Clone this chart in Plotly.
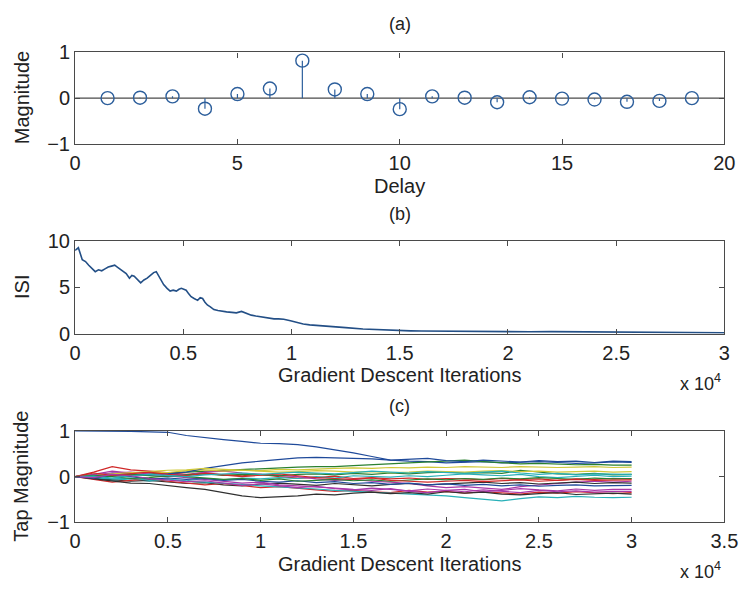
import plotly.graph_objects as go

# ---------------- data ----------------
# (a) channel impulse response
delay = list(range(1, 20))
magnitude = [0.0, 0.01, 0.04, -0.23, 0.09, 0.21, 0.82, 0.19, 0.09, -0.24,
             0.04, 0.01, -0.09, 0.02, -0.01, -0.03, -0.08, -0.06, 0.0]

# (b) ISI vs iterations
isi_iter = [0, 150, 330, 480, 630, 780, 930, 1080, 1230, 1380, 1530, 1680, 1830, 1950, 2060,
            2200, 2360, 2510, 2620, 2730, 2880, 3030, 3180, 3330, 3480, 3630, 3750, 3860, 3980,
            4090, 4250, 4390, 4530, 4680, 4800, 4910, 5020, 5130, 5250, 5360, 5500, 5660, 5780,
            5890, 6000, 6110, 6250, 6410, 6600, 6790, 7000, 7240, 7450, 7690, 7900, 8140, 8350,
            8590, 8900, 9190, 9400, 9640, 9950, 10240, 10540, 10840, 11300, 11800, 12500, 13300,
            14000, 14800, 15500, 16000, 17000, 18000, 19000, 20000, 21000, 22000, 23000, 24000,
            25000, 26000, 27000, 28000, 29000, 30000]
isi_val = [9.0, 9.3, 8.0, 7.8, 7.4, 7.1, 6.7, 6.9, 6.8, 7.0, 7.2, 7.3, 7.4, 7.2, 7.0,
           6.8, 6.5, 6.0, 6.3, 6.2, 5.8, 5.5, 5.8, 6.0, 6.3, 6.6, 6.7, 6.2, 5.8,
           5.3, 4.9, 4.6, 4.7, 4.6, 4.8, 4.9, 4.8, 4.7, 4.3, 4.0, 3.8, 3.6, 3.9,
           3.8, 3.4, 3.1, 2.9, 2.6, 2.5, 2.4, 2.35, 2.3, 2.25, 2.4, 2.2, 2.0, 1.9,
           1.8, 1.7, 1.6, 1.6, 1.55, 1.4, 1.2, 1.05, 0.95, 0.85, 0.8, 0.65, 0.5,
           0.42, 0.35, 0.3, 0.28, 0.25, 0.22, 0.2, 0.18, 0.2, 0.22, 0.2, 0.18,
           0.2, 0.17, 0.15, 0.13, 0.12, 0.1]

# (c) equalizer tap trajectories, sampled every 1000 iterations
tap_iter = [i * 1000 for i in range(31)]
taps = [
    [1.00, 1.00, 0.99, 0.99, 0.98, 0.97, 0.90, 0.85, 0.81, 0.77, 0.73, 0.72, 0.70, 0.65, 0.59, 0.52,
     0.44, 0.36, 0.34, 0.33, 0.30, 0.31, 0.33, 0.30, 0.31, 0.33, 0.31, 0.29, 0.30, 0.32, 0.31],
    [0.00, 0.01, 0.05, 0.03, 0.06, 0.08, 0.10, 0.12, 0.14, 0.15, 0.17, 0.19, 0.21, 0.22, 0.22, 0.24,
     0.26, 0.28, 0.30, 0.33, 0.35, 0.36, 0.33, 0.30, 0.28, 0.29, 0.27, 0.26, 0.27, 0.25, 0.25],
    [0.00, 0.10, 0.22, 0.15, 0.12, 0.08, 0.05, 0.09, 0.04, 0.02, 0.05, 0.00, -0.03, -0.02, 0.01, -0.04,
     -0.02, -0.05, -0.03, -0.06, -0.04, -0.05, -0.07, -0.04, -0.06, -0.05, -0.08, -0.05, -0.06, -0.04, -0.05],
    [0.00, -0.04, -0.08, -0.05, -0.10, -0.06, -0.09, -0.04, -0.07, -0.03, -0.05, -0.02, -0.04, 0.00, -0.03, 0.02,
     0.01, -0.01, 0.02, 0.00, 0.03, 0.06, 0.04, 0.02, 0.05, 0.00, -0.02, 0.01, 0.03, 0.00, 0.01],
    [0.00, 0.05, 0.12, 0.08, 0.10, 0.06, 0.03, 0.10, 0.12, 0.08, 0.05, 0.02, 0.00, -0.05, -0.08, -0.06,
     -0.10, -0.12, -0.15, -0.20, -0.24, -0.22, -0.25, -0.28, -0.22, -0.18, -0.15, -0.12, -0.10, -0.12, -0.10],
    [0.00, 0.03, 0.05, 0.08, 0.10, 0.09, 0.13, 0.15, 0.12, 0.14, 0.13, 0.16, 0.15, 0.17, 0.18, 0.19,
     0.18, 0.20, 0.19, 0.21, 0.20, 0.22, 0.21, 0.20, 0.22, 0.21, 0.20, 0.21, 0.22, 0.20, 0.21],
    [0.00, -0.03, -0.06, -0.10, -0.08, -0.12, -0.15, -0.13, -0.18, -0.20, -0.16, -0.14, -0.17, -0.19, -0.15, -0.18,
     -0.20, -0.17, -0.15, -0.18, -0.16, -0.14, -0.12, -0.15, -0.13, -0.16, -0.14, -0.12, -0.15, -0.13, -0.14],
    [0.00, 0.02, 0.08, 0.05, 0.03, 0.06, 0.10, 0.18, 0.24, 0.30, 0.34, 0.37, 0.41, 0.42, 0.41, 0.40,
     0.39, 0.36, 0.38, 0.40, 0.35, 0.33, 0.36, 0.34, 0.32, 0.35, 0.33, 0.34, 0.31, 0.34, 0.33],
    [0.00, -0.02, 0.03, 0.05, 0.02, 0.00, 0.04, 0.06, 0.03, 0.05, 0.04, 0.02, 0.05, 0.06, 0.04, 0.07,
     0.05, 0.08, 0.06, 0.09, 0.10, 0.08, 0.09, 0.07, 0.14, 0.10, 0.06, 0.05, 0.07, 0.04, 0.05],
    [0.00, -0.06, -0.12, -0.08, -0.05, -0.10, -0.14, -0.18, -0.15, -0.20, -0.24, -0.22, -0.26, -0.29, -0.32, -0.30,
     -0.33, -0.35, -0.30, -0.34, -0.32, -0.36, -0.33, -0.35, -0.38, -0.34, -0.36, -0.33, -0.35, -0.37, -0.35],
    [0.00, -0.02, -0.05, -0.03, -0.08, -0.06, -0.10, -0.12, -0.14, -0.17, -0.20, -0.22, -0.25, -0.27, -0.30, -0.32,
     -0.34, -0.36, -0.38, -0.40, -0.42, -0.46, -0.50, -0.53, -0.48, -0.44, -0.46, -0.43, -0.45, -0.46, -0.45],
    [0.00, 0.04, 0.08, 0.10, 0.06, 0.02, -0.02, -0.05, -0.10, -0.14, -0.12, -0.18, -0.20, -0.22, -0.25, -0.28,
     -0.30, -0.26, -0.32, -0.35, -0.30, -0.28, -0.33, -0.30, -0.26, -0.29, -0.31, -0.27, -0.30, -0.28, -0.28],
    [0.00, 0.02, 0.06, 0.09, 0.12, 0.14, 0.15, 0.18, 0.16, 0.14, 0.12, 0.10, 0.11, 0.13, 0.12, 0.10,
     0.11, 0.09, 0.10, 0.12, 0.11, 0.10, 0.12, 0.13, 0.11, 0.12, 0.10, 0.11, 0.12, 0.10, 0.11],
    [0.00, -0.05, -0.10, -0.14, -0.15, -0.20, -0.24, -0.28, -0.35, -0.42, -0.46, -0.44, -0.42, -0.38, -0.40, -0.36,
     -0.34, -0.37, -0.35, -0.38, -0.33, -0.36, -0.34, -0.38, -0.40, -0.37, -0.35, -0.39, -0.38, -0.36, -0.38],
    [0.00, -0.03, 0.02, 0.00, -0.05, -0.03, -0.06, -0.04, -0.08, -0.06, -0.10, -0.12, -0.09, -0.13, -0.11, -0.15,
     -0.13, -0.17, -0.14, -0.18, -0.16, -0.19, -0.17, -0.20, -0.18, -0.21, -0.19, -0.18, -0.20, -0.19, -0.19],
    [0.00, 0.03, 0.00, -0.04, -0.02, 0.02, 0.00, -0.03, -0.06, -0.04, -0.08, -0.05, -0.10, -0.08, -0.06, -0.09,
     -0.07, -0.10, -0.08, -0.05, -0.07, -0.04, -0.06, -0.03, -0.05, -0.02, -0.04, -0.06, -0.03, -0.05, -0.04],
    [0.00, 0.08, 0.03, 0.06, 0.10, 0.05, 0.02, 0.07, 0.04, 0.00, 0.03, 0.06, 0.02, -0.02, -0.04, -0.06,
     -0.03, -0.08, -0.10, -0.12, -0.10, -0.08, -0.11, -0.09, -0.07, -0.10, -0.08, -0.06, -0.08, -0.07, -0.07],
    [0.00, 0.01, -0.03, 0.02, 0.05, 0.03, 0.00, 0.04, 0.06, 0.08, 0.05, 0.07, 0.10, 0.08, 0.06, 0.09,
     0.12, 0.10, 0.08, 0.11, 0.09, 0.07, 0.10, 0.12, 0.08, 0.05, 0.07, 0.04, 0.06, 0.05, 0.05],
    [0.00, -0.02, 0.05, 0.02, -0.04, -0.07, -0.11, -0.09, -0.14, -0.19, -0.16, -0.20, -0.24, -0.21, -0.26, -0.29,
     -0.25, -0.28, -0.31, -0.27, -0.30, -0.33, -0.29, -0.32, -0.35, -0.30, -0.33, -0.31, -0.34, -0.32, -0.32],
]
tap_colors = ['#1f4a9a', '#2a8030', '#d02828', '#28b0b8', '#a838a8', '#d0c838', '#303030']

iter_ticks = [0, 5000, 10000, 15000, 20000, 25000, 30000, 35000]
iter_text = ['0', '0.5', '1', '1.5', '2', '2.5', '3', '3.5']

# ---------------- layout helpers ----------------
W, H = 752, 596
def px_x(p): return p / W
def px_y(p): return 1 - p / H

XL, XR = 71, 738
panels = {'a': (43, 138), 'b': (239, 335), 'c': (436, 531)}
FONT = 'Liberation Sans, Arial, sans-serif'
TXT = '#222222'
FRAME = '#4a4a4a'
LINEBLUE = '#2d5f9c'

fig = go.Figure()

# (a) stem plot
stem_x, stem_y = [], []
for d, m in zip(delay, magnitude):
    stem_x += [d, d, None]
    stem_y += [0, m, None]
fig.add_trace(go.Scatter(x=[0, 20], y=[0, 0], mode='lines', line=dict(color=FRAME, width=1.2),
                         xaxis='x', yaxis='y', showlegend=False, hoverinfo='skip'))
fig.add_trace(go.Scatter(x=stem_x, y=stem_y, mode='lines', line=dict(color=LINEBLUE, width=1.2),
                         xaxis='x', yaxis='y', showlegend=False))
fig.add_trace(go.Scatter(x=delay, y=magnitude, mode='markers',
                         marker=dict(symbol='circle-open', size=13, color=LINEBLUE, line=dict(width=1.4)),
                         xaxis='x', yaxis='y', showlegend=False))

# (b) ISI
fig.add_trace(go.Scatter(x=isi_iter, y=isi_val, mode='lines', line=dict(color='#234f86', width=1.6),
                         xaxis='x2', yaxis='y2', showlegend=False))

# (c) taps
for i, tv in enumerate(taps):
    fig.add_trace(go.Scatter(x=tap_iter, y=tv, mode='lines',
                             line=dict(color=tap_colors[i % len(tap_colors)], width=1.2),
                             xaxis='x3', yaxis='y3', showlegend=False))

axis_common = dict(showline=True, linecolor=FRAME, linewidth=1.2, mirror='allticks', ticks='inside',
                   ticklen=5, tickwidth=1.2, tickcolor=FRAME, showgrid=False, zeroline=False,
                   tickfont=dict(family=FONT, size=20, color=TXT))

def dom_y(key):
    top, bot = panels[key]
    return [px_y(bot), px_y(top)]

fig.update_layout(
    width=W, height=H, margin=dict(l=0, r=0, t=0, b=0),
    paper_bgcolor='white', plot_bgcolor='white', showlegend=False,
    xaxis=dict(domain=[px_x(XL), px_x(XR)], range=[0, 20], tickvals=[0, 5, 10, 15, 20],
               anchor='y', ticklabelstandoff=1, **axis_common),
    yaxis=dict(domain=dom_y('a'), range=[-1, 1], tickvals=[-1, 0, 1], anchor='x', **axis_common),
    xaxis2=dict(domain=[px_x(XL), px_x(XR)], range=[0, 30000], tickvals=iter_ticks[:7],
                ticktext=iter_text[:7], anchor='y2', ticklabelstandoff=1, **axis_common),
    yaxis2=dict(domain=dom_y('b'), range=[0, 10], tickvals=[0, 5, 10], anchor='x2', **axis_common),
    xaxis3=dict(domain=[px_x(XL), px_x(XR)], range=[0, 35000], tickvals=iter_ticks,
                ticktext=iter_text, anchor='y3', ticklabelstandoff=1, **axis_common),
    yaxis3=dict(domain=dom_y('c'), range=[-1, 1], tickvals=[-1, 0, 1], anchor='x3', **axis_common),
)

def ann(text, x, y, size=20, angle=0, xanchor='center'):
    fig.add_annotation(text=text, x=px_x(x), y=px_y(y), xref='paper', yref='paper',
                       showarrow=False, textangle=angle, xanchor=xanchor, yanchor='middle',
                       font=dict(family=FONT, size=size, color=TXT))

cx = (XL + XR) / 2
ann('(a)', cx, 14, size=18)
ann('Delay', cx, 182)
ann('Magnitude', 16, 90, angle=-90)
ann('(b)', cx, 211, size=18)
ann('Gradient Descent Iterations', cx, 378)
ann('ISI', 17, 287, angle=-90)
ann('x 10<sup>4</sup>', 713, 386, size=18)
ann('(c)', cx, 410, size=18)
ann('Gradient Descent Iterations', cx, 574)
ann('Tap Magnitude', 16, 483, angle=-90)
ann('x 10<sup>4</sup>', 713, 581, size=18)

fig.write_html('out.html')
